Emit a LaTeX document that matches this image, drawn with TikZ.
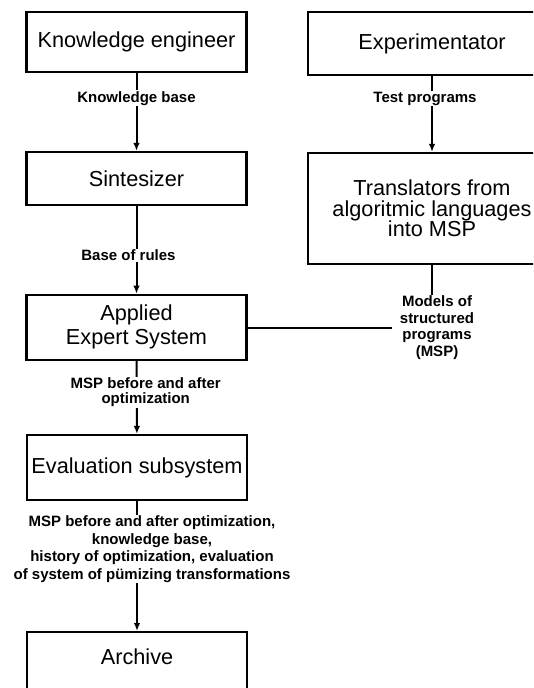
\documentclass[tikz,border=0pt]{standalone}
\usepackage{fontspec}
\setmainfont{Liberation Sans}
\usetikzlibrary{arrows.meta}
\begin{document}
\begin{tikzpicture}[x=1pt,y=1pt,
  box/.style={draw, line width=2.2pt, align=center, inner sep=0pt, minimum width=220pt,
    font=\fontsize{21.7}{21}\selectfont},
  lbl/.style={fill=white, inner sep=1pt, align=center,
    font=\bfseries\fontsize{15}{16.5}\selectfont},
  conn/.style={line width=2pt},
  arr/.style={conn, -{Latex[length=8pt,width=6.5pt]}}]
\useasboundingbox (0,-688) rectangle (533,0);
\clip (0,-688) rectangle (533,0);
% left column
\node[box, minimum height=60pt] (ke) at (136.5,-42) {Knowledge engineer};
\node[box, minimum height=53pt] (sint) at (136.5,-178.5) {Sintesizer};
\node[box, minimum height=65pt, font=\fontsize{21.7}{24}\selectfont] (aes) at (136.5,-327.3) {Applied\\Expert System};
\node[box, minimum height=65pt] (eval) at (137,-467.5) {Evaluation subsystem};
\node[box, anchor=north, text height=32pt, text depth=60pt] (arch) at (137,-631) {Archive};
% right column
\node[box, minimum width=248pt, minimum height=63pt] (exp) at (432,-43.5) {Experimentator};
\node[box, minimum width=248pt, minimum height=111pt, font=\fontsize{21.7}{20.5}\selectfont] (trans) at (432,-208.5) {Translators from\\algoritmic languages\\into MSP};
\node[align=center, inner xsep=8pt, inner ysep=1pt, font=\bfseries\fontsize{15}{16.5}\selectfont] (msp) at (437,-327.5) {Models of\\structured\\programs\\(MSP)};
% connectors
\draw[arr] (ke) -- node[lbl, pos=0.325] {Knowledge base} (sint);
\draw[arr] (exp) -- node[lbl, pos=0.295, xshift=-7pt] {Test programs} (trans);
\draw[arr] (sint) -- node[lbl, pos=0.564, xshift=-8pt] {Base of rules} (aes);
\draw[arr] (aes) -- node[lbl, pos=0.43, xshift=9pt, font=\bfseries\fontsize{15}{15.5}\selectfont] {MSP before and after\\optimization} (eval);
\draw[arr] (eval) -- node[lbl, pos=0.369, xshift=15pt, font=\bfseries\fontsize{15}{17.5}\selectfont] {MSP before and after optimization,\\knowledge base,\\history of optimization, evaluation\\of system of pümizing transformations} (arch.north);
\draw[conn] (trans.south) -- (trans.south |- msp.north);
\draw[conn] (msp.west) -- (msp.west -| aes.east);
\end{tikzpicture}
\end{document}
